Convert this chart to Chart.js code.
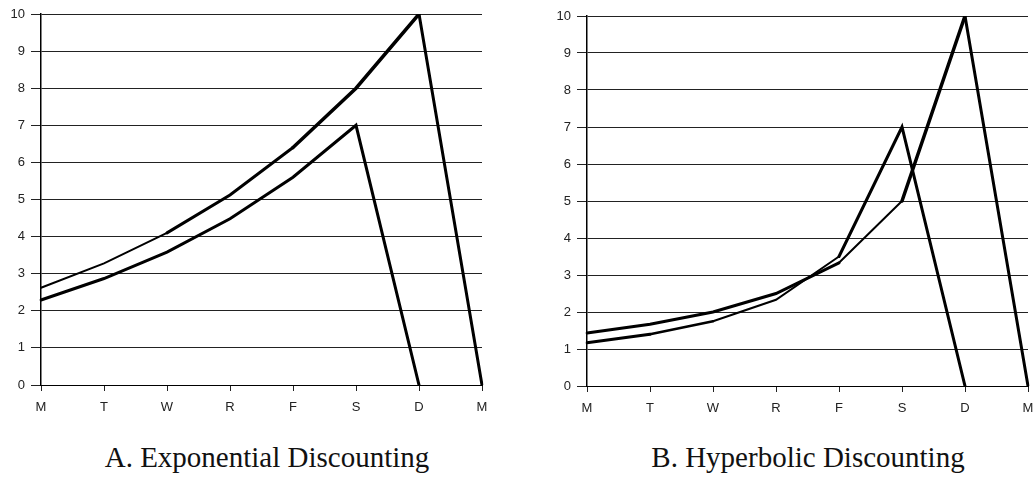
<!DOCTYPE html>
<html>
<head>
<meta charset="utf-8">
<script src="https://cdn.jsdelivr.net/npm/chart.js@4"></script>
<style>
  html, body { margin: 0; padding: 0; background: #fff; overflow: hidden; }
  body { width: 1033px; height: 477px; position: relative; }
  .box { position: absolute; width: 500px; }
  .caption {
    position: absolute; width: 500px; text-align: center;
    font-family: 'Liberation Serif', serif; font-size: 29px; line-height: 29px; color: #111;
  }
</style>
</head>
<body>
<div class="box" style="left:0; top:0; height:415px;"><canvas id="expChart"></canvas></div>
<div class="box" style="left:546px; top:2px; height:414px;"><canvas id="hypChart"></canvas></div>
<div class="caption" style="left:17px; top:443px;">A. Exponential Discounting</div>
<div class="caption" style="left:558px; top:443px;">B. Hyperbolic Discounting</div>
<script>
const days = ['M', 'T', 'W', 'R', 'F', 'S', 'D', 'M'];

// reward of 10 on D and reward of 7 on S, discounted back through the week
const expLarge = [2.62, 3.28, 4.1, 5.12, 6.4, 8, 10, 0];
const expSmall = [2.29, 2.87, 3.58, 4.48, 5.6, 7, 0, null];
const hypLarge = [1.43, 1.67, 2, 2.5, 3.33, 5, 10, 0];
const hypSmall = [1.17, 1.4, 1.75, 2.33, 3.5, 7, 0, null];

// stroke widths per segment (the scan has some thinner stretches)
const widths = {
  expLarge: [2, 2, 3, 3, 3.5, 3.5, 3],
  expSmall: [3, 3, 3, 3, 3, 3, 3],
  hypLarge: [3, 3, 3, 3, 2, 3.5, 3],
  hypSmall: [3, 2.5, 2, 2, 3, 3, 3]
};

function line(data, w) {
  return {
    data: data,
    borderColor: '#000',
    borderWidth: 3,
    borderCapStyle: 'round',
    borderJoinStyle: 'miter',
    pointRadius: 0,
    tension: 0,
    fill: false,
    segment: { borderWidth: ctx => w[ctx.p0DataIndex] }
  };
}

function createChart(id, sets) {
  const ctx = document.getElementById(id).getContext('2d');
  return new Chart(ctx, {
    type: 'line',
    data: { labels: days, datasets: sets },
    options: {
      responsive: true,
      maintainAspectRatio: false,
      animation: false,
      layout: { padding: { top: 14, right: 18, left: 0, bottom: 0 } },
      plugins: { legend: { display: false }, tooltip: { enabled: false } },
      scales: {
        x: {
          grid: { drawOnChartArea: false, drawTicks: true, tickLength: 6, color: '#222' },
          border: { display: true, color: '#000', width: 1 },
          ticks: { color: '#222', font: { family: 'Liberation Sans', size: 13 }, padding: 9, maxRotation: 0, autoSkip: false },
          afterFit: s => { s.height = 30; }
        },
        y: {
          min: 0,
          max: 10,
          grid: { color: '#222', lineWidth: 1, tickLength: 10 },
          border: { display: true, color: '#000', width: 1.5 },
          ticks: { stepSize: 1, color: '#222', font: { family: 'Liberation Sans', size: 13 }, padding: 6 },
          afterFit: s => { s.width = 41; }
        }
      }
    }
  });
}

createChart('expChart', [line(expLarge, widths.expLarge), line(expSmall, widths.expSmall)]);
createChart('hypChart', [line(hypLarge, widths.hypLarge), line(hypSmall, widths.hypSmall)]);
</script>
</body>
</html>
